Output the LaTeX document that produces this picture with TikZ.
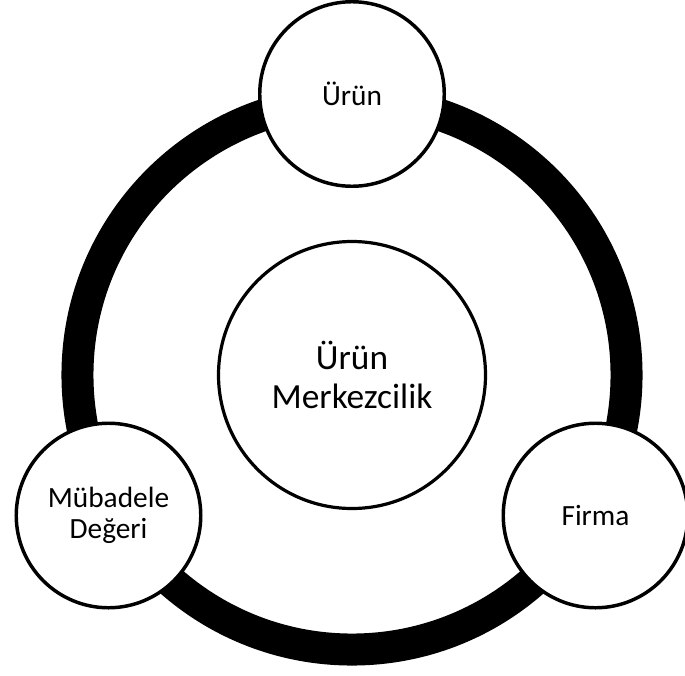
\documentclass[tikz,border=0pt]{standalone}
\usepackage{fontspec}
\setmainfont{Carlito}
\begin{document}
\begin{tikzpicture}[x=0.75pt,y=-0.75pt,
  bubble/.style={circle,draw=black,fill=white,line width=2.6pt,
    minimum size=138.4pt,inner sep=0pt,align=center,
    font=\fontsize{22}{23.25}\selectfont},
  hubnode/.style={circle,draw=black,fill=white,line width=2.4pt,
    minimum size=200.25pt,inner sep=0pt,align=center,
    font=\fontsize{26.5}{29.25}\selectfont}]
  % page frame
  \clip (0,0) rectangle (685,675);
  \fill[white] (0,0) rectangle (685,675);
  % thick ring behind the three outer bubbles
  \coordinate (ringc) at (352,375);
  \draw[line width=24pt] (ringc) circle[radius=205.9pt];
  % centre and outer bubbles
  \node[hubnode] (hub) at (352,375) {Ürün\\Merkezcilik};
  \node[bubble] (urun) at (352,94) {Ürün};
  \node[bubble] (mubadele) at (108.5,515.5) {Mübadele\\Değeri};
  \node[bubble] (firma) at (595.5,515.5) {Firma};
\end{tikzpicture}
\end{document}
